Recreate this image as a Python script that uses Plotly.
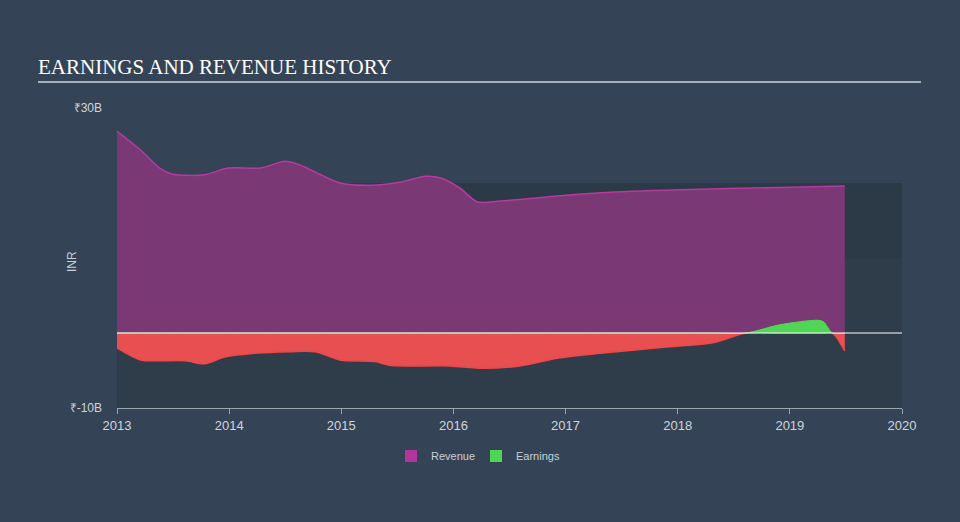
import numpy as np
import plotly.graph_objects as go

rev_years = [2013.00, 2013.21, 2013.38, 2013.49, 2013.78, 2013.99, 2014.28, 2014.50, 2014.63,
             2014.99, 2015.26, 2015.52, 2015.75, 2015.88, 2016.06, 2016.21, 2016.42, 2016.95,
             2017.31, 2018.02, 2018.91, 2019.49]
revenue = [26.9, 24.4, 22.0, 21.2, 21.1, 22.0, 22.0, 22.9, 22.4,
           20.0, 19.7, 20.1, 20.9, 20.7, 19.3, 17.5, 17.6, 18.3,
           18.7, 19.1, 19.4, 19.6]

earn_years = [2013.00, 2013.21, 2013.38, 2013.61, 2013.78, 2013.96, 2014.23, 2014.54, 2014.77,
              2014.99, 2015.30, 2015.43, 2015.97, 2016.24, 2016.59, 2016.95, 2017.31, 2017.87,
              2018.31, 2018.61, 2018.91, 2019.25, 2019.30, 2019.38, 2019.49]
earnings = [-2.0, -3.6, -3.7, -3.7, -4.1, -3.2, -2.7, -2.5, -2.5,
            -3.6, -3.8, -4.3, -4.4, -4.7, -4.4, -3.3, -2.7, -1.9,
            -1.3, 0.0, 1.1, 1.7, 1.5, 0.0, -2.4]

x_ticks = [2013, 2014, 2015, 2016, 2017, 2018, 2019, 2020]
y_tickvals = [-10, 30]
y_ticktext = ["₹-10B", "₹30B"]

earn = np.array(earnings)
pos = np.maximum(earn, 0)
neg = np.minimum(earn, 0)

fig = go.Figure()
fig.add_trace(go.Scatter(x=rev_years, y=revenue, mode="lines", fill="tozeroy",
                         line=dict(color="#b8399f", width=1.5, shape="spline", smoothing=0.8),
                         fillcolor="#7a3874", showlegend=False, hoverinfo="skip"))
fig.add_trace(go.Scatter(x=earn_years, y=neg, mode="lines", fill="tozeroy",
                         line=dict(color="#f04848", width=1.5, shape="spline", smoothing=0.8),
                         fillcolor="#e84f51", showlegend=False, hoverinfo="skip"))
fig.add_trace(go.Scatter(x=earn_years, y=pos, mode="lines", fill="tozeroy",
                         line=dict(color="#52d857", width=1, shape="spline", smoothing=0.8),
                         fillcolor="#4fd655", showlegend=False, hoverinfo="skip"))
# legend entries
fig.add_trace(go.Scatter(x=[None], y=[None], mode="markers", name="Revenue",
                         marker=dict(symbol="square", size=13, color="#b0369e")))
fig.add_trace(go.Scatter(x=[None], y=[None], mode="markers", name="Earnings",
                         marker=dict(symbol="square", size=13, color="#4fd655")))

# background bands
fig.add_shape(type="rect", xref="x", yref="y", x0=2013, x1=2020, y0=10, y1=20,
              fillcolor="#2c3a48", line_width=0, layer="below")
fig.add_shape(type="rect", xref="x", yref="y", x0=2013, x1=2020, y0=-10, y1=10,
              fillcolor="#2f3d4b", line_width=0, layer="below")
# zero line
fig.add_shape(type="line", xref="x", yref="y", x0=2013, x1=2020, y0=0, y1=0,
              line=dict(color="#ffffff", width=1), layer="above")
# title underline
fig.add_shape(type="line", xref="paper", yref="paper",
              x0=(38 - 117) / 785, x1=(921 - 117) / 785,
              y0=(408 - 82) / 300, y1=(408 - 82) / 300,
              line=dict(color="#a9afb6", width=2))

fig.add_annotation(text="INR", xref="paper", yref="paper", x=(72 - 117) / 785,
                   y=(408 - 262) / 300, showarrow=False, textangle=-90,
                   xanchor="center", yanchor="middle",
                   font=dict(family="Liberation Sans", size=12, color="#c8d0d8"))

fig.update_layout(
    width=960, height=522,
    margin=dict(l=117, r=58, t=108, b=114),
    paper_bgcolor="#344356",
    plot_bgcolor="rgba(0,0,0,0)",
    title=dict(text="EARNINGS AND REVENUE HISTORY", x=38 / 960, xanchor="left",
               y=1 - 67 / 522, yanchor="middle",
               font=dict(family="Liberation Serif", size=21, color="#ffffff")),
    showlegend=True,
    legend=dict(orientation="h", x=(391 - 117) / 785, xanchor="left", y=(408 - 456) / 300,
                yanchor="middle", font=dict(family="Liberation Sans", size=11, color="#c8d0d8"),
                bgcolor="rgba(0,0,0,0)", itemsizing="constant",
                entrywidth=40, entrywidthmode="pixels"),
    font=dict(family="Liberation Sans", color="#d0d5da"),
)
fig.update_xaxes(range=[2013, 2020], tickvals=x_ticks, ticktext=[str(t) for t in x_ticks],
                 showgrid=False, zeroline=False, showline=True, linecolor="#9aa4b0", linewidth=1,
                 ticks="outside", ticklen=5, tickcolor="#9aa4b0",
                 tickfont=dict(family="Liberation Sans", size=13, color="#d0d5da"))
fig.update_yaxes(range=[-10, 30], tickvals=y_tickvals, ticktext=y_ticktext,
                 showgrid=False, zeroline=False, showline=False, ticks="",
                 ticklabelstandoff=14,
                 tickfont=dict(family="Liberation Sans", size=12, color="#d0d5da"))

fig.write_html("out.html")
